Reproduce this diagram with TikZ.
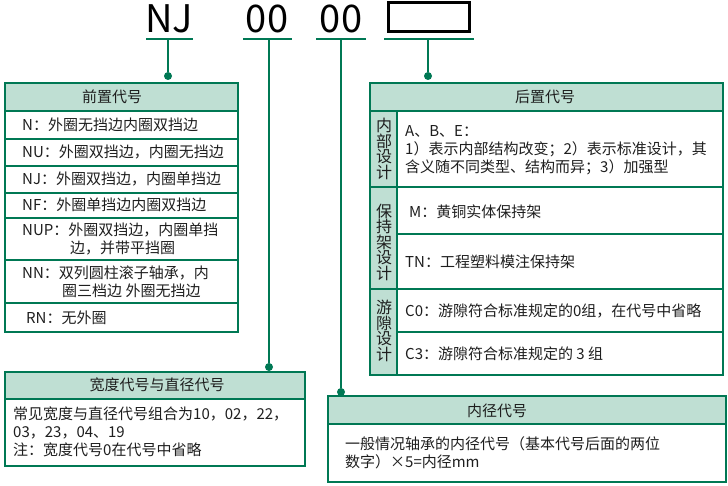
\documentclass[tikz,border=0pt]{standalone}
\usepackage{fontspec}
\setmainfont{Noto Sans CJK SC}
\usepackage{tikz}
\definecolor{codegreen}{RGB}{0,120,84}
\definecolor{codefill}{RGB}{191,223,211}
\definecolor{codetext}{RGB}{30,30,30}

\begin{document}
\begin{tikzpicture}[x=1pt,y=-1pt,
  frame/.style={draw=codegreen,line width=1.5pt},
  head/.style={frame,fill=codefill},
  lead/.style={draw=codegreen,line width=1.4pt},
  txt/.style={text=codetext,font=\fontsize{15}{18}\selectfont,inner sep=0pt,align=left},
  side/.style={text=codetext,font=\fontsize{16}{15.5}\selectfont,inner sep=0pt,align=center},
  big/.style={font=\fontsize{38}{40}\selectfont,inner sep=0pt,anchor=base},
  pin/.style={circle,fill=codegreen,inner sep=0pt,minimum size=8pt}]
\useasboundingbox (0,0) rectangle (728,486);

% the code NJ 00 00 [ ]
\node[big] (nj) at (169,33) {NJ};
\node[big] (ser) at (267,33) {00};
\node[big] (bore) at (341,33) {00};
\node[draw,line width=3pt,minimum width=81pt,minimum height=29pt,inner sep=0pt] (suf) at (428.5,17.5) {};
\coordinate (nj-l) at (146,39);   \coordinate (nj-r) at (193,39);
\coordinate (ser-l) at (243,39);  \coordinate (ser-r) at (292,39);
\coordinate (bore-l) at (316,39); \coordinate (bore-r) at (366,39);
\coordinate (suf-l) at (384,39);  \coordinate (suf-r) at (474,39);
\draw[lead] (nj-l) -- (nj-r);
\draw[lead] (ser-l) -- (ser-r);
\draw[lead] (bore-l) -- (bore-r);
\draw[lead] (suf-l) -- (suf-r);

% leaders
\coordinate (nj-u) at (168,39);
\coordinate (ser-u) at (269,39);
\coordinate (bore-u) at (341,39);
\coordinate (suf-u) at (428,39);
\node[pin] (nj-pin) at (168,76) {};
\node[pin] (ser-pin) at (269,367) {};
\node[pin] (bore-pin) at (341,392) {};
\node[pin] (suf-pin) at (428,76) {};
\draw[lead] (nj-u) -- (nj-pin);
\draw[lead] (ser-u) -- (ser-pin);
\draw[lead] (bore-u) -- (bore-pin);
\draw[lead] (suf-u) -- (suf-pin);

% prefix table
\filldraw[head] (5,83) rectangle (238,111);
\draw[frame] (5,111) rectangle (238,332);
\draw[frame] (5,139) -- (238,139);
\draw[frame] (5,166) -- (238,166);
\draw[frame] (5,193) -- (238,193);
\draw[frame] (5,218) -- (238,218);
\draw[frame] (5,260) -- (238,260);
\draw[frame] (5,303) -- (238,303);
\node[txt] (prehd) at (112,97) {前置代号};
\node[txt,anchor=west] (pre-n) at (22,125) {N：外圈无挡边内圈双挡边};
\node[txt,anchor=west] (pre-nu) at (22,152) {NU：外圈双挡边，内圈无挡边};
\node[txt,anchor=west] (pre-nj) at (22,179) {NJ：外圈双挡边，内圈单挡边};
\node[txt,anchor=west] (pre-nf) at (22,205) {NF：外圈单挡边内圈双挡边};
\node[txt,anchor=west] (pre-nup) at (22,239) {NUP：外圈双挡边，内圈单挡\\\hspace*{48pt}边，并带平挡圈};
\node[txt,anchor=west] (pre-nn) at (22,282) {NN：双列圆柱滚子轴承，内\\\hspace*{40pt}圈三档边 外圈无挡边};
\node[txt,anchor=west] (pre-rn) at (26,318) {RN：无外圈};

% width and diameter series
\filldraw[head] (5,372) rectangle (305,399);
\draw[frame] (5,399) rectangle (305,466);
\node[txt] (serhd) at (157,385) {宽度代号与直径代号};
\node[txt,anchor=west] (ser-body) at (13,432) {常见宽度与直径代号组合为10，02，22，\\03，23，04、19\\注：宽度代号0在代号中省略};

% suffix table
\filldraw[head] (370,83) rectangle (723,111);
\filldraw[head] (370,111) rectangle (397,375);
\draw[frame] (397,111) rectangle (723,375);
\draw[frame] (370,187) -- (723,187);
\draw[frame] (370,289) -- (723,289);
\draw[frame] (397,234) -- (723,234);
\draw[frame] (397,332) -- (723,332);
\node[txt] (sufhd) at (545,97) {后置代号};
\node[side] (suf-in) at (384,149) {内\\部\\设\\计};
\node[side] (suf-cage) at (384,242) {保\\持\\架\\设\\计};
\node[side] (suf-cl) at (384,331) {游\\隙\\设\\计};
\node[txt,anchor=west] (suf-abe) at (405,150) {A、B、E：\\1）表示内部结构改变；2）表示标准设计，其\\含义随不同类型、结构而异；3）加强型};
\node[txt,anchor=west] (suf-m) at (409,212) {M：黄铜实体保持架};
\node[txt,anchor=west] (suf-tn) at (405,262) {TN：工程塑料模注保持架};
\node[txt,anchor=west] (suf-c0) at (405,311) {C0：游隙符合标准规定的0组，在代号中省略};
\node[txt,anchor=west] (suf-c3) at (405,354) {C3：游隙符合标准规定的 3 组};

% bore
\filldraw[head] (328,396) rectangle (726,424);
\draw[frame] (328,424) rectangle (726,482);
\node[txt] (borehd) at (497,411) {内径代号};
\node[txt,anchor=west] (bore-body) at (345,453) {一般情况轴承的内径代号（基本代号后面的两位\\数字）×5=内径mm};
\end{tikzpicture}
\end{document}
